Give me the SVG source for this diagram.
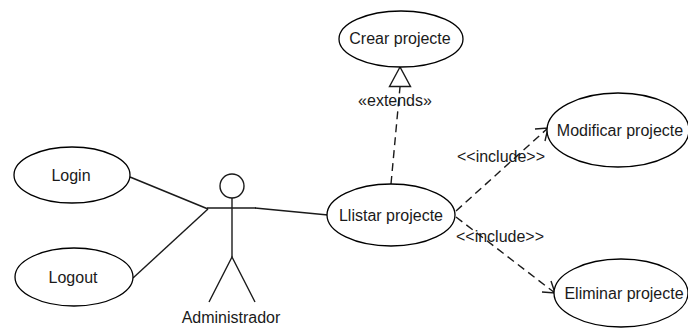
<svg xmlns="http://www.w3.org/2000/svg" width="688" height="329" viewBox="0 0 688 329">
  <style>
    .uc { fill: #ffffff; stroke: #000000; stroke-width: 1.3; }
    .lbl { font-family: "Liberation Sans", Arial, sans-serif; font-size: 16px; fill: #1a1a1a; text-anchor: middle; }
    .assoc { fill: none; stroke: #1a1a1a; stroke-width: 1.4; }
    .dep { fill: none; stroke: #1a1a1a; stroke-width: 1.4; stroke-dasharray: 8 5; }
    .head { fill: none; stroke: #1a1a1a; stroke-width: 1.4; }
  </style>
  <rect width="688" height="329" fill="#ffffff"/>

  <g id="connectors">
    <!-- actor associations -->
    <polyline class="assoc" points="130,177 208,209"/>
    <polyline class="assoc" points="133,278 208,209"/>
    <polyline class="assoc" points="255,208 328,215"/>
    <!-- extends: Llistar -> Crear -->
    <line class="dep" x1="391" y1="184" x2="400" y2="87"/>
    <polygon class="head" points="400,67 389.5,86.5 410.5,86.5" style="fill:#ffffff"/>
    <text class="lbl" x="395" y="106">«extends»</text>
    <!-- include: Llistar -> Modificar -->
    <line class="dep" x1="456" y1="211" x2="548" y2="128"/>
    <polyline class="head" points="535,129 548,128 545,141"/>
    <text class="lbl" x="501" y="162">&lt;&lt;include&gt;&gt;</text>
    <!-- include: Llistar -> Eliminar -->
    <line class="dep" x1="456" y1="217" x2="555" y2="293"/>
    <polyline class="head" points="542,292 555,293 551,281"/>
    <text class="lbl" x="500" y="242">&lt;&lt;include&gt;&gt;</text>
  </g>

  <g id="actor-administrador">
    <circle cx="232" cy="186" r="12" fill="#ffffff" stroke="#1a1a1a" stroke-width="1.4"/>
    <line class="assoc" x1="232" y1="198" x2="232" y2="257"/>
    <line class="assoc" x1="207" y1="208" x2="256" y2="208"/>
    <polyline class="assoc" points="209,302 232,257 255,302"/>
    <text class="lbl" x="231" y="323">Administrador</text>
  </g>

  <g id="uc-login">
    <ellipse class="uc" cx="72" cy="175" rx="58" ry="28"/>
    <text class="lbl" x="71" y="180.5">Login</text>
  </g>

  <g id="uc-logout">
    <ellipse class="uc" cx="74" cy="277" rx="59" ry="29"/>
    <text class="lbl" x="73" y="282.5">Logout</text>
  </g>

  <g id="uc-crear">
    <ellipse class="uc" cx="401" cy="39" rx="62" ry="28"/>
    <text class="lbl" x="400" y="43.5">Crear projecte</text>
  </g>

  <g id="uc-llistar">
    <ellipse class="uc" cx="391" cy="215" rx="64" ry="31"/>
    <text class="lbl" x="391" y="220.5">Llistar projecte</text>
  </g>

  <g id="uc-modificar">
    <ellipse class="uc" cx="618" cy="130" rx="71" ry="37"/>
    <text class="lbl" x="620" y="135.5">Modificar projecte</text>
  </g>

  <g id="uc-eliminar">
    <ellipse class="uc" cx="621" cy="293" rx="67" ry="34"/>
    <text class="lbl" x="624" y="298.5">Eliminar projecte</text>
  </g>
</svg>
